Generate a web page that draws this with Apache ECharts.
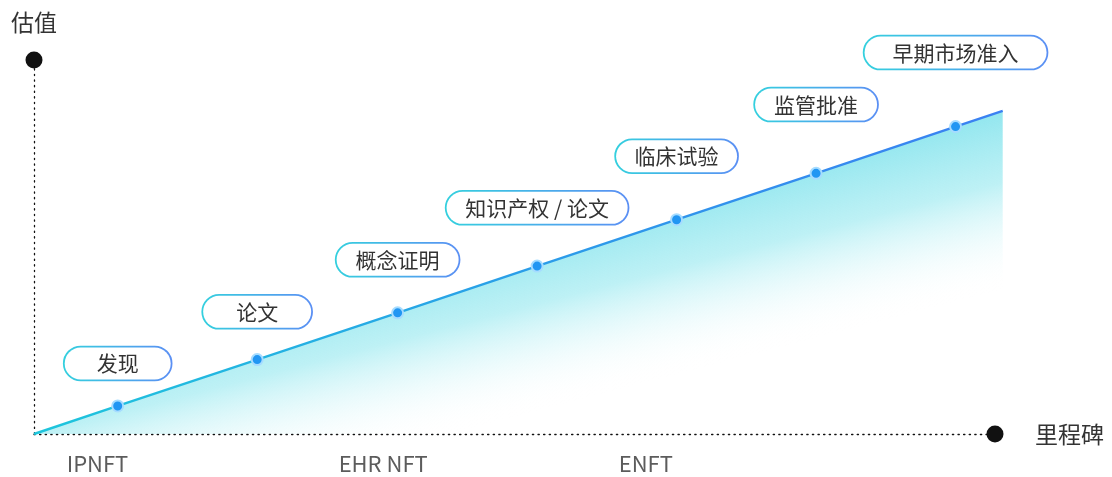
<!DOCTYPE html>
<html>
<head>
<meta charset="utf-8">
<script src="https://cdn.jsdelivr.net/npm/echarts@6/dist/echarts.min.js"></script>
<style>
html,body{margin:0;padding:0;background:#fff;}
#chart{width:1112px;height:477px;}
</style>
</head>
<body>
<div id="chart"></div>
<script>
// ---- data ----
const milestones = ['发现', '论文', '概念证明', '知识产权 / 论文', '临床试验', '监管批准', '早期市场准入'];
const milestoneX = [8.7, 23.2, 37.8, 52.3, 66.8, 81.3, 95.8];
const valuation = [7.5, 19.9, 32.4, 44.9, 57.3, 69.7, 82.2];
const lineStart = [0, 0];
const lineEnd = [100.7, 86.4];
const stageLabels = ['IPNFT', 'EHR NFT', 'ENFT'];
const stageX = [6.6, 36.3, 63.6];
const yAxisName = '估值';
const xAxisName = '里程碑';

// ---- style ----
const FONT = '"Noto Sans CJK SC", "Noto Sans", sans-serif';
const labelFont = 21;
const boxWidths = [106, 108, 122, 181, 121, 122, 182];
const ctx = document.createElement('canvas').getContext('2d');
ctx.font = labelFont + 'px ' + FONT;

const borderGrad = () => new echarts.graphic.LinearGradient(0, 0, 1, 0, [
  {offset: 0, color: '#34d0de'},
  {offset: 1, color: '#5b8ff4'}
]);

const lineData = [];
lineData.push({value: lineStart, symbol: 'none', label: {show: false}});
milestones.forEach((name, i) => {
  const tw = ctx.measureText(name).width;
  const padX = Math.max(0, (boxWidths[i] - tw) / 2);
  lineData.push({
    value: [milestoneX[i], valuation[i]],
    name: name,
    label: {
      show: true,
      position: 'top',
      distance: 20 + 5.25 * i,
      formatter: name,
      fontSize: labelFont,
      lineHeight: 22,
      fontFamily: FONT,
      color: '#333',
      backgroundColor: '#fff',
      borderColor: borderGrad(),
      borderWidth: 1.8,
      borderRadius: 17,
      padding: [5, padX, 5, padX]
    }
  });
});
lineData.push({value: lineEnd, symbol: 'none', label: {show: false}});

const axisLineStyle = {color: '#111', width: 1.3, type: [1.3, 4.3]};
const hidden = {axisLine: {show: false}, axisTick: {show: false}, axisLabel: {show: false}, splitLine: {show: false}};

const option = {
  animation: false,
  grid: [
    {left: 34, right: 1112 - 1002.7, top: 60, bottom: 43, containLabel: false},
    {left: 34, right: 117, top: 60, bottom: 43, containLabel: false}
  ],
  xAxis: [
    Object.assign({type: 'value', min: 0, max: lineEnd[0], gridIndex: 0}, hidden),
    {
      type: 'value', min: 0, max: 100, gridIndex: 1,
      name: xAxisName, nameLocation: 'end', nameGap: 40,
      nameTextStyle: {fontSize: 23, color: '#333', fontFamily: FONT, padding: [0, 0, 16, 0], verticalAlign: 'middle', align: 'left'},
      axisLine: {show: true, onZero: false, symbol: ['none', 'circle'], symbolSize: [17, 17], lineStyle: axisLineStyle},
      axisTick: {show: false}, axisLabel: {show: false}, splitLine: {show: false}
    }
  ],
  yAxis: [
    {
      type: 'value', min: 0, max: 100, gridIndex: 0,
      name: yAxisName, nameLocation: 'end', nameGap: 26,
      nameTextStyle: {fontSize: 23, color: '#333', fontFamily: FONT, align: 'center'},
      axisLine: {show: true, onZero: false, symbol: ['none', 'circle'], symbolSize: [17, 17], lineStyle: axisLineStyle},
      axisTick: {show: false}, axisLabel: {show: false}, splitLine: {show: false}
    },
    Object.assign({type: 'value', min: 0, max: 100, gridIndex: 1}, hidden)
  ],
  series: [
    {
      type: 'line',
      xAxisIndex: 0, yAxisIndex: 0,
      data: lineData,
      clip: false,
      symbol: 'circle',
      symbolSize: 11,
      showSymbol: true,
      z: 3,
      itemStyle: {color: '#2196f3', borderColor: '#a6dcff', borderWidth: 2},
      lineStyle: {
        width: 2.4,
        color: new echarts.graphic.LinearGradient(0, 0, 1, 0, [
          {offset: 0, color: '#1ec6dc'},
          {offset: 0.5, color: '#2a9ee8'},
          {offset: 1, color: '#3b80f2'}
        ])
      },
      areaStyle: {
        color: new echarts.graphic.LinearGradient(1, 0, 1.045, 0.517, [
          {offset: 0, color: 'rgba(100,220,232,1)'},
          {offset: 0.4, color: 'rgba(130,228,236,0.75)'},
          {offset: 1, color: 'rgba(255,255,255,0)'}
        ])
      }
    },
    {
      type: 'scatter',
      xAxisIndex: 0, yAxisIndex: 0,
      data: stageX.map((x, i) => ({value: [x, 0], name: stageLabels[i]})),
      symbolSize: 1,
      itemStyle: {color: 'rgba(0,0,0,0)'},
      silent: true,
      clip: false,
      label: {
        show: true,
        position: 'bottom',
        distance: 18,
        formatter: p => p.name,
        fontSize: 22,
        lineHeight: 22,
        color: '#333',
        fontFamily: FONT
      }
    }
  ]
};

const chart = echarts.init(document.getElementById('chart'), null, {renderer: 'canvas'});
chart.setOption(option);
</script>
</body>
</html>
